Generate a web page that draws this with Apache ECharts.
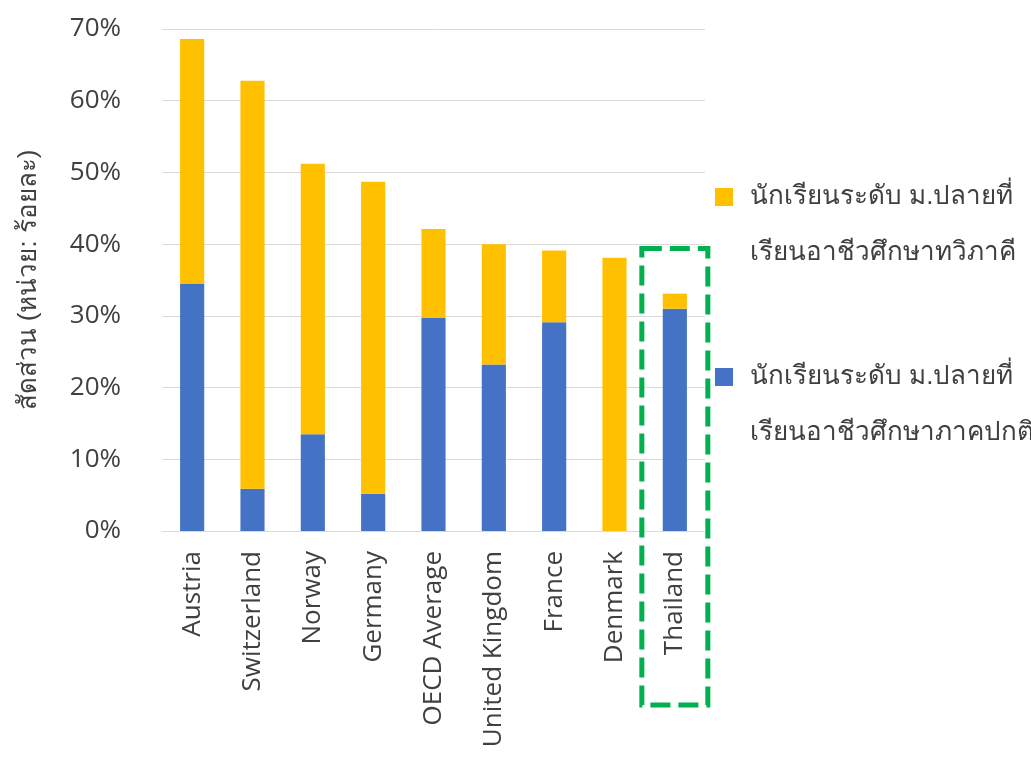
<!DOCTYPE html>
<html>
<head>
<meta charset="utf-8">
<script src="https://cdn.jsdelivr.net/npm/echarts@6/dist/echarts.min.js"></script>
<style>
  html, body { margin: 0; padding: 0; background: #fff; }
  #chart { width: 1031px; height: 758px; }
</style>
</head>
<body>
<div id="chart"></div>
<script>
// countries (x axis)
const categories = ['Austria', 'Switzerland', 'Norway', 'Germany', 'OECD Average',
  'United Kingdom', 'France', 'Denmark', 'Thailand'];
// regular vocational students (%)
const regularValues = [34.5, 5.9, 13.5, 5.2, 29.7, 23.2, 29.1, 0, 31.0];
// dual vocational students (%), stacked on top
const dualValues = [34.1, 56.9, 37.7, 43.5, 12.4, 16.8, 10.0, 38.1, 2.1];
const regularName = 'นักเรียนระดับ ม.ปลายที่\nเรียนอาชีวศึกษาภาคปกติ';
const dualName = 'นักเรียนระดับ ม.ปลายที่\nเรียนอาชีวศึกษาทวิภาคี';
const yTicks = [0, 10, 20, 30, 40, 50, 60, 70];

const textColor = '#404040';
const font = "'Open Sans', 'Noto Sans', sans-serif";

const chart = echarts.init(document.getElementById('chart'));

const option = {
  animation: false,
  grid: {
    left: 162,
    right: 326,
    top: 29,
    bottom: 227
  },
  legend: {
    orient: 'vertical',
    left: 710,
    top: 108,
    itemWidth: 18,
    itemHeight: 18,
    itemGap: 12,
    icon: 'rect',
    data: [dualName, regularName],
    formatter: function (name) {
      return ' \n' + name;
    },
    textStyle: {
      fontSize: 26,
      lineHeight: 56,
      color: textColor,
      padding: [0, 0, 0, 12]
    }
  },
  xAxis: {
    type: 'category',
    data: categories,
    axisTick: { show: false },
    axisLine: { lineStyle: { color: '#D9D9D9', width: 1 } },
    axisLabel: {
      rotate: 90,
      margin: 20,
      interval: 0,
      fontSize: 26,
      fontFamily: font,
      color: textColor
    }
  },
  yAxis: {
    type: 'value',
    min: 0,
    max: yTicks[yTicks.length - 1],
    interval: 10,
    name: 'สัดส่วน (หน่วย: ร้อยละ)',
    nameLocation: 'middle',
    nameRotate: 90,
    nameGap: 120,
    nameTextStyle: {
      fontSize: 26,
      fontWeight: 'normal',
      color: textColor
    },
    axisLine: { show: false },
    axisTick: { show: false },
    splitLine: { lineStyle: { color: '#D9D9D9', width: 1 } },
    axisLabel: {
      margin: 41,
      fontSize: 26,
      fontFamily: font,
      color: textColor,
      formatter: '{value}%'
    }
  },
  series: [
    {
      name: regularName,
      type: 'bar',
      stack: 'total',
      barWidth: '40%',
      itemStyle: { color: '#4472C4' },
      data: regularValues
    },
    {
      name: dualName,
      type: 'bar',
      stack: 'total',
      barWidth: '40%',
      itemStyle: { color: '#FFC000' },
      data: dualValues
    }
  ]
};
chart.setOption(option);

// green dashed highlight round the Thailand bar
const cx = chart.convertToPixel({ xAxisIndex: 0 }, 'Thailand');
const topY = chart.convertToPixel({ yAxisIndex: 0 }, 39.4);
chart.setOption({
  graphic: [{
    type: 'rect',
    shape: { x: cx - 33, y: topY, width: 66, height: 705 - topY },
    style: {
      fill: 'none',
      stroke: '#00B050',
      lineWidth: 5,
      lineDash: [20, 8]
    },
    z: 10
  }]
});
</script>
</body>
</html>
